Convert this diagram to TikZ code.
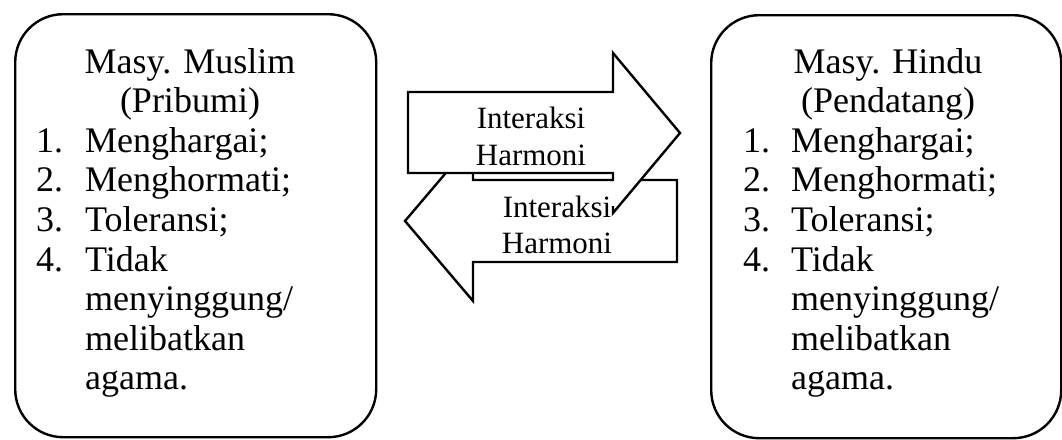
\documentclass[tikz,border=0pt]{standalone}
\usepackage{fontspec}
\setmainfont{Liberation Serif}
\begin{document}
\begin{tikzpicture}[x=1pt,y=-1pt,
  roundbox/.style={draw=black, line width=2.4pt, rounded corners=48pt,
    minimum width=#1, minimum height=423pt, anchor=north west, inner sep=0pt},
  big/.style={font=\fontsize{36pt}{40pt}\selectfont, inner sep=0pt},
  head/.style={big, anchor=base},
  num/.style={big, anchor=base west},
  item/.style={big, anchor=base west},
  lbl/.style={font=\fontsize{31pt}{37pt}\selectfont, inner sep=0pt, anchor=base},
  outline/.style={draw=black, line width=2.4pt, line join=miter}]
\useasboundingbox (0,0) rectangle (1062,439);

% the two communities
\node[roundbox=361pt] (muslim) at (14,13) {};
\node[roundbox=350pt] (hindu) at (710,14) {};

% left-pointing arrow (behind)
\draw[outline, fill=white] (677,180) -- (473,180) -- (473,141) -- (405,221)
  -- (473,301) -- (473,262) -- (677,262) -- cycle;

% right-pointing arrow (in front)
\fill[white] (408,92) -- (613,92) -- (613,53) -- (680,133) -- (613,213)
  -- (613,173) -- (408,173) -- cycle;
\draw[outline] (613,181) -- (613,173) -- (408,173) -- (408,92) -- (613,92)
  -- (613,53) -- (680,133) -- (613,213) -- (613,206);

% arrow labels
\node[lbl] (toprA) at (531,128) {Interaksi};
\node[lbl] (toprB) at (531,165) {Harmoni};
\node[lbl] (botlA) at (557,217) {Interaksi};
\node[lbl] (botlB) at (557,253) {Harmoni};

% left box text
\node[head] (mh1) at (190,73) {Masy. Muslim};
\node[head] (mh2) at (190,112.6) {(Pribumi)};
\node[num] (mn1) at (36,152.2) {1.};
\node[item] (mt1) at (85,152.2) {Menghargai;};
\node[num] (mn2) at (36,191.8) {2.};
\node[item] (mt2) at (85,191.8) {Menghormati;};
\node[num] (mn3) at (36,231.4) {3.};
\node[item] (mt3) at (85,231.4) {Toleransi;};
\node[num] (mn4) at (36,271) {4.};
\node[item] (mt4) at (85,271) {Tidak};
\node[item] (mt5) at (85,310.6) {menyinggung/};
\node[item] (mt6) at (85,350.2) {melibatkan};
\node[item] (mt7) at (85,389.8) {agama.};

% right box text
\node[head] (hh1) at (888,73) {Masy. Hindu};
\node[head] (hh2) at (888,112.6) {(Pendatang)};
\node[num] (hn1) at (743,152.2) {1.};
\node[item] (ht1) at (791,152.2) {Menghargai;};
\node[num] (hn2) at (743,191.8) {2.};
\node[item] (ht2) at (791,191.8) {Menghormati;};
\node[num] (hn3) at (743,231.4) {3.};
\node[item] (ht3) at (791,231.4) {Toleransi;};
\node[num] (hn4) at (743,271) {4.};
\node[item] (ht4) at (791,271) {Tidak};
\node[item] (ht5) at (791,310.6) {menyinggung/};
\node[item] (ht6) at (791,350.2) {melibatkan};
\node[item] (ht7) at (791,389.8) {agama.};
\end{tikzpicture}
\end{document}
